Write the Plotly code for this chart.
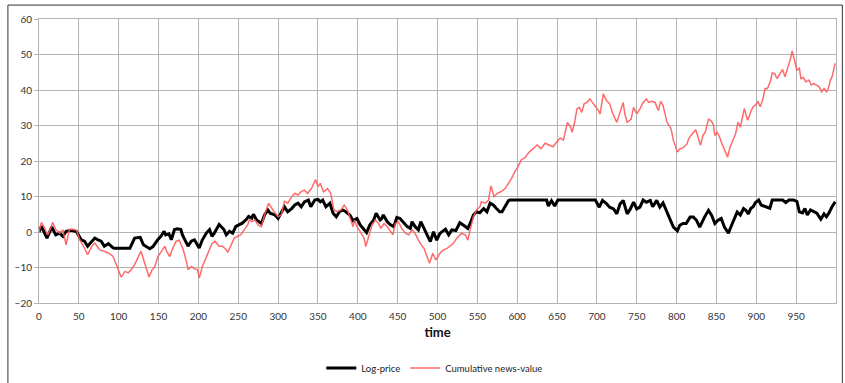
import plotly.graph_objects as go

# ---- data ----
time_price = [0, 3, 10, 16, 21, 26, 30, 34, 40, 47, 53, 57, 61, 66, 70, 74, 78, 82, 87, 93, 95, 114,
              120, 127, 131, 139, 143, 149, 153, 157, 159, 163, 166, 170, 174, 178, 180, 187, 191, 195,
              201, 205, 210, 214, 217, 220, 226, 232, 235, 239, 243, 247, 251, 255, 260, 263, 267, 269,
              273, 279, 283, 287, 290, 296, 300, 304, 308, 312, 317, 321, 325, 329, 333, 338, 341, 346,
              350, 353, 356, 360, 365, 369, 373, 377, 381, 385, 390, 394, 399, 403, 408, 411, 415, 420,
              423, 428, 430, 432, 437, 441, 445, 449, 453, 458, 462, 466, 468, 472, 476, 479, 482, 487,
              491, 495, 499, 503, 510, 514, 518, 523, 528, 534, 538, 541, 545, 549, 553, 558, 562, 566,
              570, 574, 578, 581, 585, 589, 591, 637, 639, 643, 647, 651, 698, 703, 707, 712, 716, 721,
              725, 729, 733, 738, 742, 746, 750, 754, 758, 762, 767, 770, 775, 779, 783, 788, 792, 796,
              801, 804, 808, 812, 817, 821, 825, 829, 835, 840, 844, 848, 852, 856, 860, 865, 869, 873,
              876, 880, 884, 887, 890, 893, 896, 899, 903, 906, 912, 917, 920, 926, 933, 937, 941, 947,
              951, 954, 958, 961, 964, 968, 972, 976, 981, 985, 988, 991, 995, 999]
log_price = [0, 1.6, -1.7, 1.4, -0.8, -0.3, -1.2, 0.2, 0.5, 0.1, -2.2, -2.6, -4, -2.6, -1.7, -2.2, -2.6,
             -4, -3.3, -4.5, -4.6, -4.6, -1.7, -1.5, -3.6, -4.7, -4.1, -2.2, -1.2, 0.2, -0.8, -0.5, -2.2,
             0.7, 0.9, 0.7, -0.8, -4, -2.6, -2.2, -4.5, -2.2, -0.3, 0.7, -1.2, -0.3, 2.1, 0.7, -0.8, 0.2,
             -0.3, 1.6, 2.1, 2.5, 3.5, 4.4, 3.9, 5, 3.4, 2.4, 4.8, 6.2, 5.3, 4.8, 3.8, 5.3, 7.1, 5.7, 6.6,
             7.6, 8.1, 7.1, 8.5, 9, 7.1, 9, 9.2, 8.5, 9, 7.1, 8.1, 5.3, 4.3, 5.7, 6.2, 5.7, 4.8, 3.2, 3.8,
             2, 0.6, -0.2, 2, 3.4, 5.3, 3.4, 3.8, 4.8, 2.9, 2, 1.5, 4.1, 3.8, 2.4, 1.5, 1, 2.9, 1.5, 0.6,
             2.9, 1.5, -0.8, -2.7, 0.1, -2.3, -0.4, 0.8, -0.8, 0.6, 0.4, 2.6, 1.7, 1, 2.4, 4.8, 5.7, 5.4,
             6.6, 5.7, 8.1, 7.6, 6.6, 5.7, 5.7, 7.1, 8.8, 9, 9, 7.3, 8.8, 7.3, 9, 9, 7, 8.9, 8, 7, 6.5,
             5.1, 7.9, 8.9, 5.1, 6.5, 8.4, 6.5, 7, 9, 8.4, 8.9, 7.1, 8.9, 7, 8.2, 5.6, 3.3, 1.4, 0.3, 1.9,
             2.4, 2.4, 4.2, 4.2, 3.3, 1.4, 4.2, 6.1, 4.7, 2.4, 3.3, 3.8, 1.4, -0.3, 1.9, 3.8, 5.6, 4.8,
             6.6, 6.1, 5.1, 6.6, 7.1, 8.3, 9, 7.6, 7.1, 6.7, 9, 9, 9, 8.3, 9, 9, 8.6, 5.7, 5.4, 6.6, 4.8,
             6.2, 5.7, 5.3, 3.6, 5.1, 4.3, 5.3, 7.1, 8.5]

time_news = [0, 3, 7, 11, 13, 17, 21, 26, 30, 34, 38, 42, 47, 51, 57, 61, 66, 70, 76, 82, 87, 93, 97,
             103, 108, 112, 116, 120, 124, 128, 130, 134, 138, 142, 145, 149, 153, 158, 160, 164, 168,
             172, 176, 181, 185, 187, 191, 195, 199, 201, 205, 210, 214, 217, 221, 226, 230, 235, 237,
             241, 245, 249, 253, 259, 262, 264, 267, 271, 275, 279, 283, 288, 292, 295, 300, 304, 308,
             312, 317, 321, 325, 329, 333, 337, 342, 347, 350, 353, 357, 362, 366, 370, 374, 379, 383,
             387, 392, 394, 396, 399, 403, 408, 410, 414, 418, 422, 426, 429, 433, 437, 440, 444, 447,
             451, 455, 460, 464, 468, 472, 476, 480, 483, 487, 490, 494, 498, 503, 507, 512, 516, 520,
             524, 527, 530, 535, 538, 541, 545, 549, 553, 555, 560, 564, 567, 571, 575, 580, 585, 589,
             593, 597, 601, 605, 610, 615, 620, 625, 630, 635, 640, 645, 650, 654, 658, 660, 663, 667,
             669, 672, 675, 678, 681, 684, 688, 691, 694, 698, 702, 704, 708, 712, 716, 720, 725, 729,
             733, 735, 738, 743, 746, 750, 754, 758, 762, 765, 769, 773, 777, 780, 783, 788, 790, 793,
             796, 799, 801, 804, 808, 813, 815, 818, 821, 824, 827, 830, 833, 836, 840, 843, 846, 848,
             851, 854, 857, 860, 864, 867, 871, 874, 877, 880, 885, 889, 891, 893, 896, 899, 902, 905,
             908, 911, 914, 918, 920, 923, 926, 930, 933, 936, 938, 941, 943, 945, 948, 951, 954, 956,
             959, 962, 966, 969, 972, 976, 979, 982, 985, 988, 990, 993, 995, 998, 999]
news_value = [0, 2.7, 1.1, -0.8, 0.2, 2.7, 0.7, -0.3, 0.5, -3.6, 0.7, 0.8, 0.5, -2.1, -4.5, -6.4,
              -4.1, -3.1, -5, -5.5, -5.9, -6.9, -9.2, -12.7, -11.1, -11.5, -10.6, -9.2, -7.3, -5.4,
              -6.9, -9.7, -12.7, -10.6, -9.9, -7, -5.7, -4, -5.4, -6.9, -4.5, -2.6, -2.3, -5, -8.3,
              -10.6, -9.7, -10.4, -10.6, -13, -9.7, -7, -5, -3.3, -2.6, -4, -4, -5, -5.7, -3.6, -1.7,
              -1.2, -0.8, 1.1, 2.1, 3.5, 2.9, 3.4, 1.9, 1.5, 4.8, 8.1, 6.7, 5.7, 4.3, 4.8, 8.6, 8.1,
              9.9, 10.9, 10.4, 11.4, 11.8, 10.9, 12.3, 14.8, 12.8, 13.7, 11.3, 12.2, 10.9, 6.2, 5.7,
              6.2, 7.6, 6.2, 2.9, 1.5, 3.4, 1.5, 0.1, -1.8, -4.1, -0.8, 2, 3.4, 2.4, 1, 2.4, 1.5, 0.6,
              -0.8, 2.4, 2.9, 1, -0.4, -0.8, 0.6, -0.4, -2.3, -3.7, -4.6, -7, -8.8, -6, -7.9, -6, -5.1,
              -4.6, -3.9, -3.2, -1.8, -1.2, -0.4, -0.8, -2.3, 0.6, 4.3, 6.2, 7, 8.5, 8.1, 9, 13, 10,
              10.9, 11.4, 12.3, 13.7, 15.1, 17, 18.4, 20.3, 21, 22.5, 23.5, 24.5, 23.5, 25, 24.5, 24,
              25.5, 26.5, 25.9, 28.1, 30.9, 29.5, 28.1, 30.9, 34.7, 35.1, 33.7, 36.1, 36.6, 37.5, 36.6,
              35.1, 34.2, 33.2, 38.9, 37, 36.1, 33.3, 30.9, 33.7, 36.5, 33.3, 30.9, 31.8, 35.1, 33.3,
              34.7, 36.5, 37.5, 36.5, 36.8, 36.5, 34.2, 36.8, 35.6, 30.9, 30, 29.1, 25.8, 23.4, 22.5,
              23.4, 23.7, 24.8, 26.2, 27.2, 28.1, 28.8, 26.7, 24.4, 27.2, 28.1, 31.8, 31.4, 30.4, 27.2,
              28.1, 26.7, 24.8, 23.4, 21.1, 23.9, 25.8, 27.7, 30.9, 29.5, 34.8, 31.5, 32.5, 33.9, 35.3,
              35.8, 36.7, 35.3, 37.2, 40.4, 40.4, 42.7, 44.8, 44.6, 43.2, 44.6, 45.8, 43.7, 45.1, 47,
              48.9, 51, 47.9, 45.6, 46.1, 43.2, 43.5, 42.3, 42.8, 41.4, 41.8, 41.4, 40.9, 39.5, 40.4,
              39.5, 40, 42.8, 43.7, 46.6, 47.5]

x_tick_values = [0, 50, 100, 150, 200, 250, 300, 350, 400, 450, 500, 550, 600, 650, 700, 750,
                 800, 850, 900, 950]
x_tick_labels = ["0", "50", "100", "150", "200", "250", "300", "350", "400", "450", "500", "550",
                 "600", "650", "700", "750", "800", "850", "900", "950"]
y_tick_values = [-20, -10, 0, 10, 20, 30, 40, 50, 60]

FONT = "Lato"
GRID = "#b4b4b4"

fig = go.Figure()
fig.add_trace(go.Scatter(x=time_price, y=log_price, mode="lines", name="Log-price",
                         line=dict(color="#000000", width=3)))
fig.add_trace(go.Scatter(x=time_news, y=news_value, mode="lines", name="Cumulative news-value",
                         line=dict(color="rgba(255,90,90,0.9)", width=1.5)))

fig.update_layout(
    width=845, height=383,
    margin=dict(l=39, r=9, t=19, b=80, autoexpand=False),
    paper_bgcolor="white", plot_bgcolor="white",
    font=dict(family=FONT, size=10, color="#333333"),
    showlegend=True,
    legend=dict(orientation="h", x=0.496, xanchor="center", y=-0.229, yanchor="middle",
                font=dict(size=9.5, color="#222222"), itemwidth=30, bgcolor="rgba(0,0,0,0)"),
    xaxis=dict(range=[0, 1000], tickvals=x_tick_values, ticktext=x_tick_labels,
               showgrid=True, gridcolor=GRID, gridwidth=1, zeroline=False, automargin=False,
               showline=True, linecolor=GRID, mirror=True,
               ticks="outside", ticklen=4, tickcolor="rgba(0,0,0,0)",
               title=dict(text="<b>time</b>", font=dict(size=13, color="#111111"), standoff=6)),
    yaxis=dict(range=[-20, 60], tickvals=y_tick_values, showgrid=True, gridcolor=GRID,
               gridwidth=1, zeroline=False, showline=True, linecolor=GRID, mirror=True,
               automargin=False, ticks="outside", ticklen=4, tickcolor=GRID),
)
# outer chart frame
fig.add_shape(type="rect", xref="paper", yref="paper", x0=-0.039, x1=1.008, y0=-0.30, y1=1.049,
              line=dict(color="#333333", width=1), fillcolor="rgba(0,0,0,0)", layer="below")

fig.write_html("out.html", config={"displayModeBar": False},
               post_script="document.body.style.margin='0';")
